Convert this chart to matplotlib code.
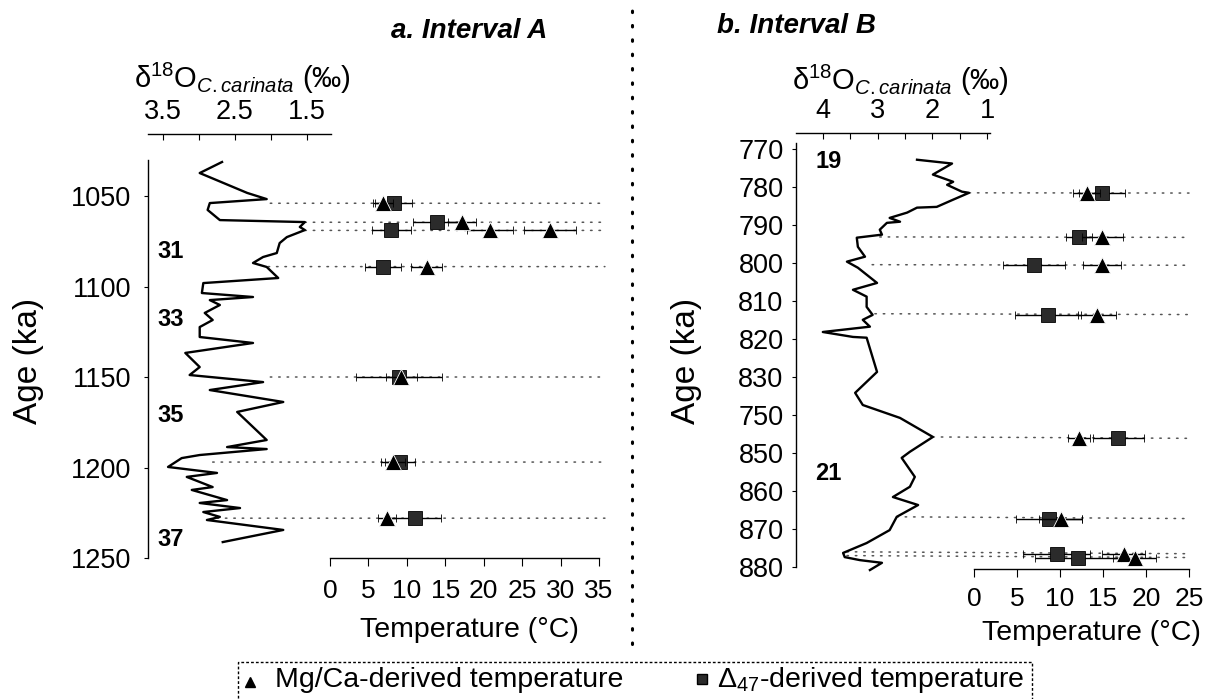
import matplotlib
matplotlib.use("Agg")
import matplotlib.pyplot as plt
from matplotlib.lines import Line2D
from matplotlib.patches import ConnectionPatch, Rectangle
from matplotlib.transforms import blended_transform_factory

plt.rcParams['font.family'] = ['Liberation Sans', 'DejaVu Sans']
plt.rcParams['mathtext.fontset'] = 'custom'
plt.rcParams['mathtext.rm'] = 'Liberation Sans'
plt.rcParams['mathtext.it'] = 'Liberation Sans:italic'
plt.rcParams['mathtext.bf'] = 'Liberation Sans:bold'

# ---------------- Data: Interval A ----------------
a_curve_age = [1031.2, 1037.3, 1048.3, 1051.7, 1053.9, 1057.7, 1063.3, 1064.4, 1067.1, 1068.8,
               1072.7, 1076.0, 1081.5, 1083.7, 1087.0, 1089.2, 1095.3, 1098.1, 1103.6, 1105.8,
               1107.5, 1110.2, 1114.6, 1118.5, 1122.4, 1127.9, 1131.2, 1136.7, 1144.5, 1148.9,
               1152.8, 1157.2, 1163.8, 1169.3, 1184.8, 1188.7, 1189.8, 1193.1, 1194.8, 1199.7,
               1201.4, 1203.0, 1205.2, 1210.8, 1212.4, 1218.0, 1219.6, 1222.4, 1224.6, 1227.3,
               1229.0, 1234.5, 1241.2]
a_curve_d18o = [2.68, 2.99, 2.33, 2.06, 2.85, 2.88, 2.71, 1.53, 1.60, 1.53,
                1.78, 1.88, 1.92, 2.11, 2.25, 2.06, 1.90, 2.94, 2.96, 2.25,
                2.85, 2.71, 2.92, 2.81, 2.99, 2.99, 2.25, 3.19, 2.99, 3.13,
                2.11, 2.85, 1.83, 2.47, 2.06, 2.61, 2.06, 2.99, 3.24, 3.43,
                3.08, 2.75, 3.17, 2.81, 3.10, 2.61, 2.99, 2.43, 2.94, 2.71,
                2.89, 1.83, 2.67]

a_sample_age = [1054, 1064.5, 1069, 1089, 1150, 1197, 1228]
a_sample_d18o = [2.01, 1.53, 1.53, 2.04, 2.01, 2.81, 2.75]

a_mg_age = [1054, 1064.5, 1069, 1069, 1089, 1150, 1197, 1228]
a_mg_T = [6.9, 17.2, 20.8, 28.6, 12.6, 9.3, 8.2, 7.4]
a_mg_err = [1.3, 1.8, 3.0, 3.4, 2.0, 2.0, 1.5, 1.2]

a_d47_age = [1054, 1064.5, 1069, 1089, 1150, 1197, 1228]
a_d47_T = [8.3, 13.9, 8.0, 6.9, 9.0, 9.1, 11.0]
a_d47_err = [2.4, 3.1, 2.6, 2.4, 5.6, 2.0, 3.5]

a_mis_labels = ['31', '33', '35', '37']
a_mis_age = [1080.4, 1118, 1171, 1240]

a_age_ticks = [1050, 1100, 1150, 1200, 1250]
a_d18o_ticks = [3.5, 2.5, 1.5]
a_d18o_minor = [3.0, 2.0]
a_temp_ticks = [0, 5, 10, 15, 20, 25, 30, 35]

# ---------------- Data: Interval B ----------------
b_curve_age = [772.9, 773.9, 776.8, 778.7, 779.5, 781.3, 781.6, 783.4, 785.3, 785.5,
               786.8, 788.2, 789.2, 789.5, 791.3, 792.6, 793.4, 795.8, 798.4, 799.7,
               801.3, 805.3, 807.1, 808.9, 811.6, 813.7, 815.0, 816.8, 818.2, 819.5,
               819.7, 828.7, 834.2, 837.4, 840.8, 845.8, 849.7, 851.3, 856.3, 858.9,
               861.6, 863.7, 866.8, 870.3, 873.7, 876.3, 877.4, 878.2, 878.9, 880.8]
b_curve_d18o = [2.28, 1.64, 1.99, 1.62, 1.73, 1.46, 1.33, 1.62, 1.92, 2.28,
                2.46, 2.78, 2.59, 2.83, 2.96, 2.92, 3.38, 3.36, 3.23, 3.56,
                3.36, 3.01, 3.45, 3.20, 3.20, 3.09, 3.27, 3.14, 4.00, 3.45,
                3.20, 3.01, 3.41, 3.27, 2.59, 1.99, 2.41, 2.56, 2.32, 2.41,
                2.72, 2.26, 2.65, 2.78, 3.20, 3.63, 3.60, 3.32, 2.92, 3.14]

b_sample_age = [781.6, 793.2, 800.5, 813.4, 845.8, 866.8, 876.0, 877.0]
b_sample_d18o = [1.33, 2.96, 3.10, 3.05, 1.99, 2.65, 3.56, 3.56]

b_mg_age = [781.6, 793.2, 800.5, 813.4, 845.8, 866.8, 876.0, 877.0]
b_mg_T = [13.1, 14.9, 14.9, 14.3, 12.2, 10.1, 17.4, 18.7]
b_mg_err = [1.6, 2.4, 2.2, 2.2, 1.3, 2.5, 2.5, 2.5]

b_d47_age = [781.6, 793.2, 800.5, 813.4, 845.8, 866.8, 876.0, 877.0]
b_d47_T = [14.9, 12.2, 7.0, 8.6, 16.8, 8.7, 9.6, 12.1]
b_d47_err = [2.7, 1.5, 3.6, 3.8, 3.0, 3.8, 3.9, 5.0]

b_mis_labels = ['19', '21']
b_mis_age = [773.4, 855.3]

b_age_ticks = [770, 780, 790, 800, 810, 820, 830, 840, 850, 860, 870, 880]
b_age_ticklabels = ['770', '780', '790', '800', '810', '820', '830', '750', '850', '860', '870', '880']
b_d18o_ticks = [4, 3, 2, 1]
b_d18o_minor = [3.5, 2.5, 1.5]
b_temp_ticks = [0, 5, 10, 15, 20, 25]

d18o_label = r'δ$^{18}$O$_{\mathit{C.carinata}}$ (‰)'
temp_label = 'Temperature (°C)'
age_label = 'Age (ka)'
legend_labels = ['Mg/Ca-derived temperature', 'Δ$_{47}$-derived temperature']

# ---------------- Figure ----------------
W, H = 1220, 699
fig = plt.figure(figsize=(W / 100, H / 100), dpi=100)


def rect(x0, y0, x1, y1):
    return [x0 / W, 1 - y1 / H, (x1 - x0) / W, (y1 - y0) / H]


def fx(px):
    return px / W


def fy(py):
    return 1 - py / H


SQ_COLOR = '#2b2b2b'


def make_panel(d_rect, t_rect, ylim, dlim, tlim, curve_age, curve_d, age_ticks, age_ticklabels,
               d_ticks, d_minor, t_ticks, top_out, age_pad, t_pad,
               s_age, s_d, mg_age, mg_T, mg_err, d47_age, d47_T, d47_err,
               mis_labels, mis_age, mis_x, line_end):
    axd = fig.add_axes(rect(*d_rect))
    axd.set_facecolor('none')
    axd.set_ylim(*ylim)
    axd.set_xlim(*dlim)
    for s in ['right', 'bottom']:
        axd.spines[s].set_visible(False)
    axd.spines['top'].set_position(('outward', top_out))
    axd.spines['left'].set_linewidth(1.0)
    axd.spines['top'].set_linewidth(1.0)
    axd.xaxis.set_ticks_position('top')
    axd.set_xticks(d_ticks)
    axd.set_xticks(d_minor, minor=True)
    axd.set_xticklabels([('%g' % v) for v in d_ticks])
    axd.tick_params(axis='x', which='both', direction='in', length=4, width=0.8,
                    labelsize=19.5, pad=7)
    axd.set_yticks(age_ticks)
    axd.set_yticklabels(age_ticklabels)
    axd.tick_params(axis='y', direction='out', length=3, width=0.8, labelsize=19.5, pad=age_pad)
    axd.plot(curve_d, curve_age, color='black', lw=1.7, clip_on=False, zorder=3)
    for lab, ag in zip(mis_labels, mis_age):
        axd.text(mis_x, ag, lab, fontsize=17, fontweight='bold', ha='center', va='center')

    axt = fig.add_axes(rect(*t_rect))
    axt.set_facecolor('none')
    axt.set_ylim(*ylim)
    axt.set_xlim(*tlim)
    for s in ['left', 'top', 'right']:
        axt.spines[s].set_visible(False)
    axt.spines['bottom'].set_linewidth(1.0)
    axt.set_yticks([])
    axt.set_xticks(t_ticks)
    axt.tick_params(axis='x', direction='out', length=6, width=0.8, labelsize=19, pad=t_pad)

    blend = blended_transform_factory(axt.transAxes, axt.transData)
    for ag, dv in zip(s_age, s_d):
        con = ConnectionPatch(xyA=(dv, ag), coordsA=axd.transData,
                              xyB=(line_end, ag), coordsB=blend,
                              color='#555555', lw=1.1, linestyle=(0, (1, 4.5)),
                              shrinkA=0, shrinkB=0, zorder=1)
        axd.add_artist(con)

    axt.errorbar(d47_T, d47_age, xerr=d47_err, fmt='s', ms=10.5, mfc=SQ_COLOR, mec='black',
                 mew=0.6, ecolor='black', elinewidth=1.0, capsize=3, capthick=1.0,
                 clip_on=False, zorder=4)
    axt.errorbar(mg_T, mg_age, xerr=mg_err, fmt='^', ms=11, mfc='black', mec='white',
                 mew=0.6, ecolor='black', elinewidth=1.0, capsize=3, capthick=1.0,
                 clip_on=False, zorder=5)
    return axd, axt


make_panel(d_rect=(148, 160, 331, 558), t_rect=(330, 160, 599, 558),
           ylim=(1250, 1030.1), dlim=(3.708, 1.167), tlim=(0, 35),
           curve_age=a_curve_age, curve_d=a_curve_d18o,
           age_ticks=a_age_ticks, age_ticklabels=[str(v) for v in a_age_ticks],
           d_ticks=a_d18o_ticks, d_minor=a_d18o_minor, t_ticks=a_temp_ticks,
           top_out=18.5, age_pad=9, t_pad=9,
           s_age=a_sample_age, s_d=a_sample_d18o,
           mg_age=a_mg_age, mg_T=a_mg_T, mg_err=a_mg_err,
           d47_age=a_d47_age, d47_T=a_d47_T, d47_err=a_d47_err,
           mis_labels=a_mis_labels, mis_age=a_mis_age, mis_x=3.40, line_end=1.022)

make_panel(d_rect=(796, 143, 990, 567), t_rect=(974, 143, 1189, 569),
           ylim=(880, 768.5), dlim=(4.49, 0.947), tlim=(0, 25),
           curve_age=b_curve_age, curve_d=b_curve_d18o,
           age_ticks=b_age_ticks, age_ticklabels=b_age_ticklabels,
           d_ticks=b_d18o_ticks, d_minor=b_d18o_minor, t_ticks=b_temp_ticks,
           top_out=7, age_pad=6, t_pad=7,
           s_age=b_sample_age, s_d=b_sample_d18o,
           mg_age=b_mg_age, mg_T=b_mg_T, mg_err=b_mg_err,
           d47_age=b_d47_age, d47_T=b_d47_T, d47_err=b_d47_err,
           mis_labels=b_mis_labels, mis_age=b_mis_age, mis_x=3.90, line_end=1.0)

# Titles and labels
fig.text(fx(391), fy(38), 'a. Interval A', fontsize=20, fontweight='bold', fontstyle='italic',
         ha='left', va='baseline')
fig.text(fx(717), fy(33), 'b. Interval B', fontsize=20, fontweight='bold', fontstyle='italic',
         ha='left', va='baseline')
fig.text(fx(242), fy(78), d18o_label, fontsize=21, ha='center', va='center')
fig.text(fx(900), fy(80), d18o_label, fontsize=21, ha='center', va='center')
fig.text(fx(29), fy(361), age_label, fontsize=24, rotation=90, ha='center', va='center')
fig.text(fx(686), fy(361), age_label, fontsize=24, rotation=90, ha='center', va='center')
fig.text(fx(469), fy(630), temp_label, fontsize=20.5, ha='center', va='center')
fig.text(fx(1091), fy(633), temp_label, fontsize=20.5, ha='center', va='center')

# Vertical divider
fig.add_artist(Line2D([fx(632), fx(632)], [fy(644), fy(0)], transform=fig.transFigure,
                      color='black', lw=2.2, linestyle=(0, (0.5, 4.2)),
                      dash_capstyle='round'))

# Legend (drawn manually to match the boxed layout)
fig.add_artist(Rectangle((fx(238), fy(712)), fx(1032) - fx(238), fy(662) - fy(712),
                         transform=fig.transFigure, fill=False, edgecolor='black',
                         lw=1.0, linestyle=(0, (2, 1.5))))
fig.add_artist(Line2D([fx(250)], [fy(682)], transform=fig.transFigure, marker='^',
                      ls='none', color='black', ms=7))
fig.add_artist(Line2D([fx(702)], [fy(679)], transform=fig.transFigure, marker='s',
                      ls='none', mfc=SQ_COLOR, mec='black', ms=7))
fig.text(fx(275), fy(680), legend_labels[0], fontsize=20.5, ha='left', va='center')
fig.text(fx(717), fy(680), legend_labels[1], fontsize=20.5, ha='left', va='center')

fig.savefig('out.png', dpi=100)
